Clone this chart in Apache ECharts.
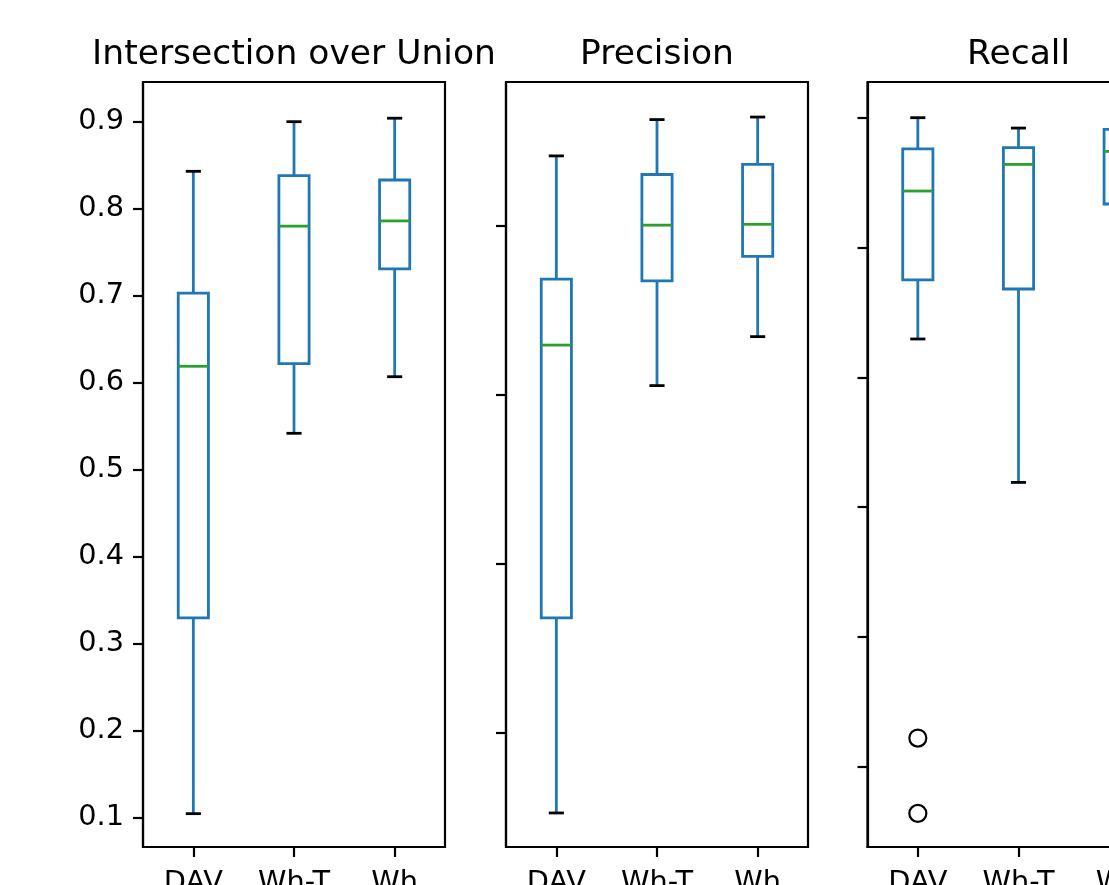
<!DOCTYPE html>
<html><head><meta charset="utf-8">
<script src="https://cdn.jsdelivr.net/npm/echarts@6/dist/echarts.min.js"></script>
<style>html,body{margin:0;padding:0;background:#fff}#c{width:1109px;height:885px}</style>
</head><body><div id="c"></div>
<script>
// ---- data ----
const categories = ['DAV', 'Wh-T', 'Wh'];
const titles = ['Intersection over Union', 'Precision', 'Recall'];
// each row: [lower whisker, Q1, median, Q3, upper whisker]
const iouStats = [
  [0.105, 0.330, 0.619, 0.703, 0.843],
  [0.542, 0.622, 0.780, 0.838, 0.900],
  [0.607, 0.731, 0.786, 0.833, 0.904]
];
const precisionStats = [
  [0.105, 0.336, 0.659, 0.737, 0.883],
  [0.611, 0.735, 0.801, 0.861, 0.926],
  [0.669, 0.764, 0.802, 0.873, 0.929]
];
const recallStats = [
  [0.7295, 0.775, 0.8435, 0.876, 0.900],
  [0.619, 0.768, 0.864, 0.877, 0.892],
  [0.800, 0.8335, 0.874, 0.891, 0.898]
];
const recallOutliers = [[0, 0.422], [0, 0.364]];
const iouTicks = [0.1, 0.2, 0.3, 0.4, 0.5, 0.6, 0.7, 0.8, 0.9];
const precisionTicks = [0.2, 0.4, 0.6, 0.8];
const recallTicks = [0.4, 0.5, 0.6, 0.7, 0.8, 0.9];
const iouRange = [0.0667, 0.9456];
const precisionRange = [0.0647, 0.9705];
const recallRange = [0.3381, 0.9275];

// ---- styling ----
const FONT = 'DejaVu Sans';
const BLUE = '#1f77b4', GREEN = '#2ca02c', BLACK = '#000000';
const LW = 2.8, FRAME = 2.2;
const TICK_FS = 28.8, TITLE_FS = 34.5;
const gridLefts = [143, 506, 867.5];
const GRID_TOP = 82, GRID_H = 765, GRID_W = 302;

const panels = [
  {stats: iouStats, ticks: iouTicks, range: iouRange, labels: true},
  {stats: precisionStats, ticks: precisionTicks, range: precisionRange, labels: false},
  {stats: recallStats, ticks: recallTicks, range: recallRange, labels: false}
];

function renderBox(params, api) {
  const i = api.value(0);
  const lo = api.coord([i, api.value(1)]);
  const q1 = api.coord([i, api.value(2)]);
  const md = api.coord([i, api.value(3)]);
  const q3 = api.coord([i, api.value(4)]);
  const hi = api.coord([i, api.value(5)]);
  const x = lo[0];
  const bw = api.size([1, 0])[0] * 0.3;
  const cw = bw / 2;
  const ln = (x1, y1, x2, y2, c) => ({
    type: 'line', shape: {x1, y1, x2, y2},
    style: {stroke: c, lineWidth: LW, fill: null}
  });
  return {
    type: 'group',
    children: [
      ln(x, q1[1], x, lo[1], BLUE),
      ln(x, q3[1], x, hi[1], BLUE),
      ln(x - cw / 2, lo[1], x + cw / 2, lo[1], BLACK),
      ln(x - cw / 2, hi[1], x + cw / 2, hi[1], BLACK),
      {type: 'rect', shape: {x: x - bw / 2, y: q3[1], width: bw, height: q1[1] - q3[1]},
       style: {stroke: BLUE, lineWidth: LW, fill: null}},
      ln(x - bw / 2, md[1], x + bw / 2, md[1], GREEN)
    ]
  };
}

const grid = [], xAxis = [], yAxis = [], series = [], graphic = [];
panels.forEach((p, k) => {
  grid.push({left: gridLefts[k], top: GRID_TOP, width: GRID_W, height: GRID_H,
    containLabel: false, outerBoundsMode: 'none',
    show: true, borderColor: BLACK, borderWidth: FRAME, backgroundColor: 'transparent'});
  xAxis.push({
    type: 'category', gridIndex: k, data: categories, boundaryGap: true,
    axisLine: {show: true, onZero: false, lineStyle: {color: BLACK, width: FRAME}},
    axisTick: {show: true, alignWithLabel: true, length: 10, lineStyle: {color: BLACK, width: FRAME}},
    axisLabel: {show: true, interval: 0, margin: 22, color: BLACK, fontSize: TICK_FS, fontFamily: FONT,
      hideOverlap: false},
    splitLine: {show: false}
  });
  yAxis.push({
    type: 'value', gridIndex: k, min: p.range[0], max: p.range[1],
    axisLine: {show: true, lineStyle: {color: BLACK, width: FRAME}},
    axisTick: {show: true, length: 10, customValues: p.ticks, lineStyle: {color: BLACK, width: FRAME}},
    axisLabel: {show: p.labels, customValues: p.ticks, margin: 19, color: BLACK, fontSize: TICK_FS,
      fontFamily: FONT, formatter: v => v.toFixed(1)},
    splitLine: {show: false}
  });
  series.push({
    type: 'custom', xAxisIndex: k, yAxisIndex: k,
    renderItem: renderBox,
    encode: {x: 0, y: [1, 2, 3, 4, 5]},
    data: p.stats.map((s, i) => [i].concat(s)),
    clip: false
  });
  graphic.push({
    type: 'text', x: gridLefts[k] + GRID_W / 2, y: 55,
    style: {text: titles[k], font: TITLE_FS + 'px "' + FONT + '"', fill: BLACK,
      textAlign: 'center', textVerticalAlign: 'middle'}
  });
});
series.push({
  type: 'scatter', xAxisIndex: 2, yAxisIndex: 2, data: recallOutliers,
  symbol: 'circle', symbolSize: 17,
  itemStyle: {color: 'rgba(0,0,0,0)', borderColor: BLACK, borderWidth: 2.2, opacity: 1},
  silent: true
});

const chart = echarts.init(document.getElementById('c'), null, {renderer: 'canvas'});
chart.setOption({animation: false, backgroundColor: '#ffffff', grid, xAxis, yAxis, series, graphic});
</script>
</body></html>
